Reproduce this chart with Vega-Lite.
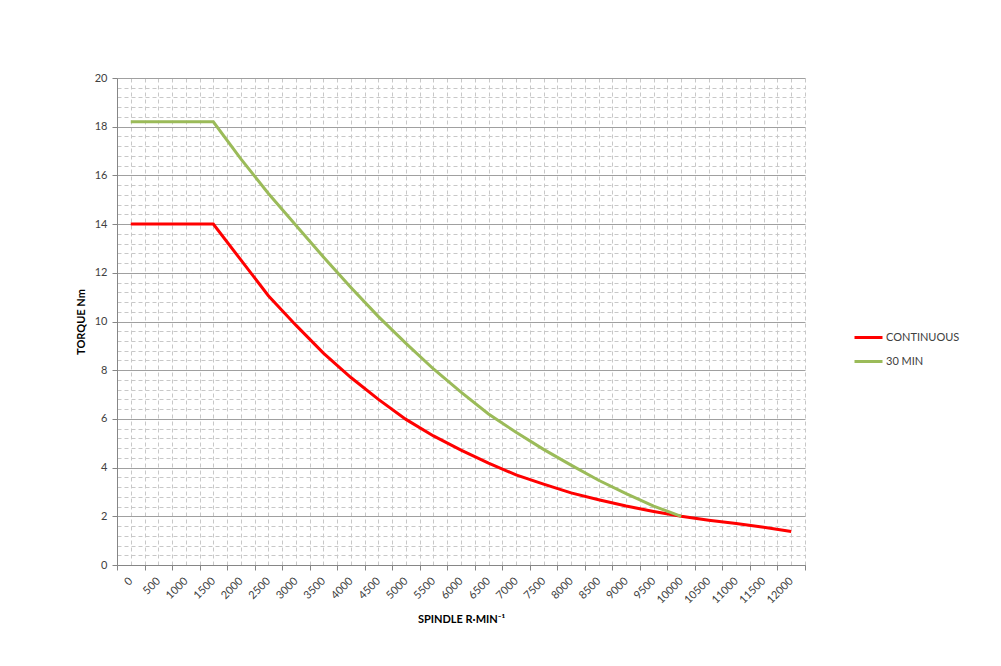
{
  "$schema": "https://vega.github.io/schema/vega-lite/v6.json",
  "width": 688,
  "height": 487,
  "autosize": {"type": "none"},
  "padding": {"left": 117, "top": 78, "right": 196, "bottom": 101},
  "background": "white",
  "config": {"font": "Lato", "view": {"stroke": null}},
  "data": {
    "values": [
      {"rpm": 0, "torque": 14, "series": "CONTINUOUS"},
      {"rpm": 500, "torque": 14, "series": "CONTINUOUS"},
      {"rpm": 1000, "torque": 14, "series": "CONTINUOUS"},
      {"rpm": 1500, "torque": 14, "series": "CONTINUOUS"},
      {"rpm": 2000, "torque": 12.53, "series": "CONTINUOUS"},
      {"rpm": 2500, "torque": 11.06, "series": "CONTINUOUS"},
      {"rpm": 3000, "torque": 9.85, "series": "CONTINUOUS"},
      {"rpm": 3500, "torque": 8.7, "series": "CONTINUOUS"},
      {"rpm": 4000, "torque": 7.7, "series": "CONTINUOUS"},
      {"rpm": 4500, "torque": 6.8, "series": "CONTINUOUS"},
      {"rpm": 5000, "torque": 5.98, "series": "CONTINUOUS"},
      {"rpm": 5500, "torque": 5.3, "series": "CONTINUOUS"},
      {"rpm": 6000, "torque": 4.72, "series": "CONTINUOUS"},
      {"rpm": 6500, "torque": 4.18, "series": "CONTINUOUS"},
      {"rpm": 7000, "torque": 3.7, "series": "CONTINUOUS"},
      {"rpm": 7500, "torque": 3.32, "series": "CONTINUOUS"},
      {"rpm": 8000, "torque": 2.96, "series": "CONTINUOUS"},
      {"rpm": 8500, "torque": 2.68, "series": "CONTINUOUS"},
      {"rpm": 9000, "torque": 2.42, "series": "CONTINUOUS"},
      {"rpm": 9500, "torque": 2.2, "series": "CONTINUOUS"},
      {"rpm": 10000, "torque": 2.0, "series": "CONTINUOUS"},
      {"rpm": 10500, "torque": 1.84, "series": "CONTINUOUS"},
      {"rpm": 11000, "torque": 1.7, "series": "CONTINUOUS"},
      {"rpm": 11500, "torque": 1.55, "series": "CONTINUOUS"},
      {"rpm": 12000, "torque": 1.38, "series": "CONTINUOUS"},
      {"rpm": 0, "torque": 18.2, "series": "30 MIN"},
      {"rpm": 500, "torque": 18.2, "series": "30 MIN"},
      {"rpm": 1000, "torque": 18.2, "series": "30 MIN"},
      {"rpm": 1500, "torque": 18.2, "series": "30 MIN"},
      {"rpm": 2000, "torque": 16.68, "series": "30 MIN"},
      {"rpm": 2500, "torque": 15.26, "series": "30 MIN"},
      {"rpm": 3000, "torque": 13.95, "series": "30 MIN"},
      {"rpm": 3500, "torque": 12.65, "series": "30 MIN"},
      {"rpm": 4000, "torque": 11.4, "series": "30 MIN"},
      {"rpm": 4500, "torque": 10.2, "series": "30 MIN"},
      {"rpm": 5000, "torque": 9.1, "series": "30 MIN"},
      {"rpm": 5500, "torque": 8.05, "series": "30 MIN"},
      {"rpm": 6000, "torque": 7.1, "series": "30 MIN"},
      {"rpm": 6500, "torque": 6.2, "series": "30 MIN"},
      {"rpm": 7000, "torque": 5.45, "series": "30 MIN"},
      {"rpm": 7500, "torque": 4.75, "series": "30 MIN"},
      {"rpm": 8000, "torque": 4.1, "series": "30 MIN"},
      {"rpm": 8500, "torque": 3.48, "series": "30 MIN"},
      {"rpm": 9000, "torque": 2.93, "series": "30 MIN"},
      {"rpm": 9500, "torque": 2.42, "series": "30 MIN"},
      {"rpm": 10000, "torque": 2.0, "series": "30 MIN"}
    ]
  },
  "mark": {"type": "line", "strokeWidth": 3},
  "encoding": {
    "x": {
      "field": "rpm",
      "type": "quantitative",
      "scale": {"domain": [-250, 12250], "nice": false, "zero": false},
      "axis": {
        "values": [-250, 0, 250, 500, 750, 1000, 1250, 1500, 1750, 2000, 2250, 2500, 2750, 3000, 3250, 3500, 3750, 4000, 4250, 4500, 4750, 5000, 5250, 5500, 5750, 6000, 6250, 6500, 6750, 7000, 7250, 7500, 7750, 8000, 8250, 8500, 8750, 9000, 9250, 9500, 9750, 10000, 10250, 10500, 10750, 11000, 11250, 11500, 11750, 12000, 12250],
        "labelExpr": "datum.value % 500 === 0 ? format(datum.value, 'd') : ''",
        "labelAngle": -45,
        "labelAlign": "right",
        "labelBaseline": "middle",
        "labelPadding": 9,
        "labelFontSize": 11,
        "labelColor": "#404040",
        "labelOverlap": false,
        "labelFlush": false,
        "tickSize": 5,
        "tickColor": "#868686",
        "tickOpacity": {"condition": {"test": "datum.value % 500 !== 0", "value": 1}, "value": 0},
        "domainColor": "#868686",
        "grid": true,
        "gridDash": [4, 3],
        "gridColor": "#c8c8c8",
        "title": "SPINDLE R·MIN⁻¹",
        "titleFontSize": 11,
        "titleFontWeight": "bold",
        "titleColor": "#000000",
        "titlePadding": 8
      }
    },
    "y": {
      "field": "torque",
      "type": "quantitative",
      "scale": {"domain": [0, 20], "nice": false},
      "axis": {
        "values": [0, 0.4, 0.8, 1.2, 1.6, 2, 2.4, 2.8, 3.2, 3.6, 4, 4.4, 4.8, 5.2, 5.6, 6, 6.4, 6.8, 7.2, 7.6, 8, 8.4, 8.8, 9.2, 9.6, 10, 10.4, 10.8, 11.2, 11.6, 12, 12.4, 12.8, 13.2, 13.6, 14, 14.4, 14.8, 15.2, 15.6, 16, 16.4, 16.8, 17.2, 17.6, 18, 18.4, 18.8, 19.2, 19.6, 20],
        "labelExpr": "datum.value % 2 === 0 ? format(datum.value, 'd') : ''",
        "labelFontSize": 11,
        "labelColor": "#404040",
        "labelPadding": 5,
        "labelOverlap": false,
        "labelFlush": false,
        "tickSize": 5,
        "tickColor": "#868686",
        "tickOpacity": {"condition": {"test": "datum.value % 2 === 0", "value": 1}, "value": 0},
        "domainColor": "#868686",
        "grid": true,
        "gridDash": {"condition": {"test": "datum.value % 2 === 0", "value": []}, "value": [4, 3]},
        "gridColor": {"condition": {"test": "datum.value % 2 === 0", "value": "#a0a0a0"}, "value": "#c8c8c8"},
        "title": "TORQUE Nm",
        "titleFontSize": 11,
        "titleFontWeight": "bold",
        "titleColor": "#000000",
        "titlePadding": 8
      }
    },
    "color": {
      "field": "series",
      "type": "nominal",
      "scale": {"domain": ["CONTINUOUS", "30 MIN"], "range": ["#ff0000", "#9bbb59"]},
      "legend": {
        "title": null,
        "orient": "none",
        "legendX": 736,
        "legendY": 244,
        "symbolType": "stroke",
        "symbolSize": 784,
        "symbolStrokeWidth": 3,
        "labelFontSize": 11,
        "labelColor": "#404040",
        "labelOffset": 2,
        "rowPadding": 2
      }
    }
  }
}
